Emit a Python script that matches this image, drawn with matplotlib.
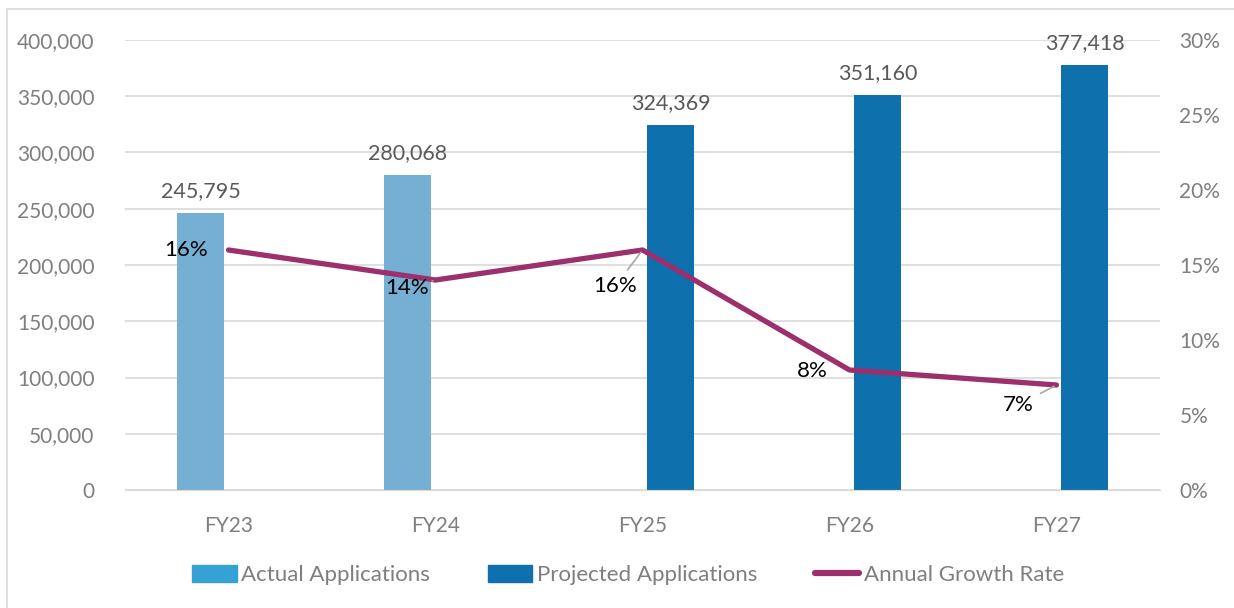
import numpy as np
import matplotlib.pyplot as plt
from matplotlib.patches import Rectangle, Patch
from matplotlib.lines import Line2D
from matplotlib.ticker import FuncFormatter, MultipleLocator

plt.rcParams['font.family'] = ['Lato', 'DejaVu Sans']

years = ['FY23', 'FY24', 'FY25', 'FY26', 'FY27']
actual = [245795, 280068, None, None, None]
projected = [None, None, 324369, 351160, 377418]
growth = [16, 14, 16, 8, 7]

c_actual = '#75AFD4'
c_actual_leg = '#35A1D5'
c_proj = '#0E70AD'
c_line = '#9B306D'
grey = '#7F7F7F'

fig = plt.figure(figsize=(12.34, 6.08), dpi=100)
ax = fig.add_axes([125/1234, 118/608, 1035/1234, 450/608])
ax2 = ax.twinx()

x = np.arange(len(years))
w = 0.227
off = 0.135

xa = [i - off for i, v in enumerate(actual) if v is not None]
va = [v for v in actual if v is not None]
xp = [i + off for i, v in enumerate(projected) if v is not None]
vp = [v for v in projected if v is not None]

ax.bar(xa, va, width=w, color=c_actual, zorder=2)
ax.bar(xp, vp, width=w, color=c_proj, zorder=2)

for xi, v in zip(xa + xp, va + vp):
    ax.annotate(f'{v:,}', (xi, v), xytext=(0, 12), textcoords='offset pixels',
                ha='center', va='bottom', fontsize=15.5, color='#595959')

ax.set_xlim(-0.5, 4.5)
ax.set_ylim(0, 400000)
ax.yaxis.set_major_locator(MultipleLocator(50000))
ax.yaxis.set_major_formatter(FuncFormatter(lambda v, p: f'{int(v):,}'))
ax.grid(axis='y', color='#D9D9D9', lw=1.2, zorder=0)
ax.set_axisbelow(True)
ax.set_xticks(x)
ax.set_xticklabels(years)

ax2.plot(x, growth, color=c_line, lw=3.8, solid_capstyle='round', zorder=3)
ax2.set_ylim(0, 30)
ax2.yaxis.set_major_locator(MultipleLocator(5))
ax2.yaxis.set_major_formatter(FuncFormatter(lambda v, p: f'{int(v)}%'))

# label offsets (pixels) and whether a leader line is drawn
lab_off = [(-42, 0), (-28, -8), (-27, -36), (-37, -1), (-38, -20)]
leader = [False, True, True, False, True]
for i, g in enumerate(growth):
    ap = None
    if leader[i]:
        ap = dict(arrowstyle='-', color='#A6A6A6', lw=1.2, shrinkA=3, shrinkB=2)
    ax2.annotate(f'{g}%', (x[i], g), xytext=lab_off[i], textcoords='offset pixels',
                 ha='center', va='center', fontsize=16, color='black',
                 arrowprops=ap, zorder=4)

for a in (ax, ax2):
    for s in a.spines.values():
        s.set_visible(False)
    a.tick_params(length=0, labelsize=15, labelcolor=grey)
ax.spines['bottom'].set_visible(True)
ax.spines['bottom'].set_color('#D9D9D9')
ax.tick_params(axis='y', pad=22)
ax.tick_params(axis='x', pad=19)
ax2.tick_params(axis='y', pad=14)

handles = [Patch(color=c_actual_leg), Patch(color=c_proj),
           Line2D([0], [0], color=c_line, lw=4.5, solid_capstyle='round')]
labels = ['Actual Applications', 'Projected Applications', 'Annual Growth Rate']
leg = fig.legend(handles, labels, loc='center', bbox_to_anchor=(628/1234, 1 - 575/608),
                 ncol=3, frameon=False, fontsize=16, handlelength=2.0, handleheight=0.8,
                 handletextpad=0.2, columnspacing=2.6)
for t in leg.get_texts():
    t.set_color(grey)

fig.add_artist(Rectangle((7/1234, -0.1), 1.2, 1.1 - 9/608, transform=fig.transFigure,
                         fill=False, edgecolor='#D9D9D9', lw=1.2))

fig.savefig('out.png', dpi=100)
